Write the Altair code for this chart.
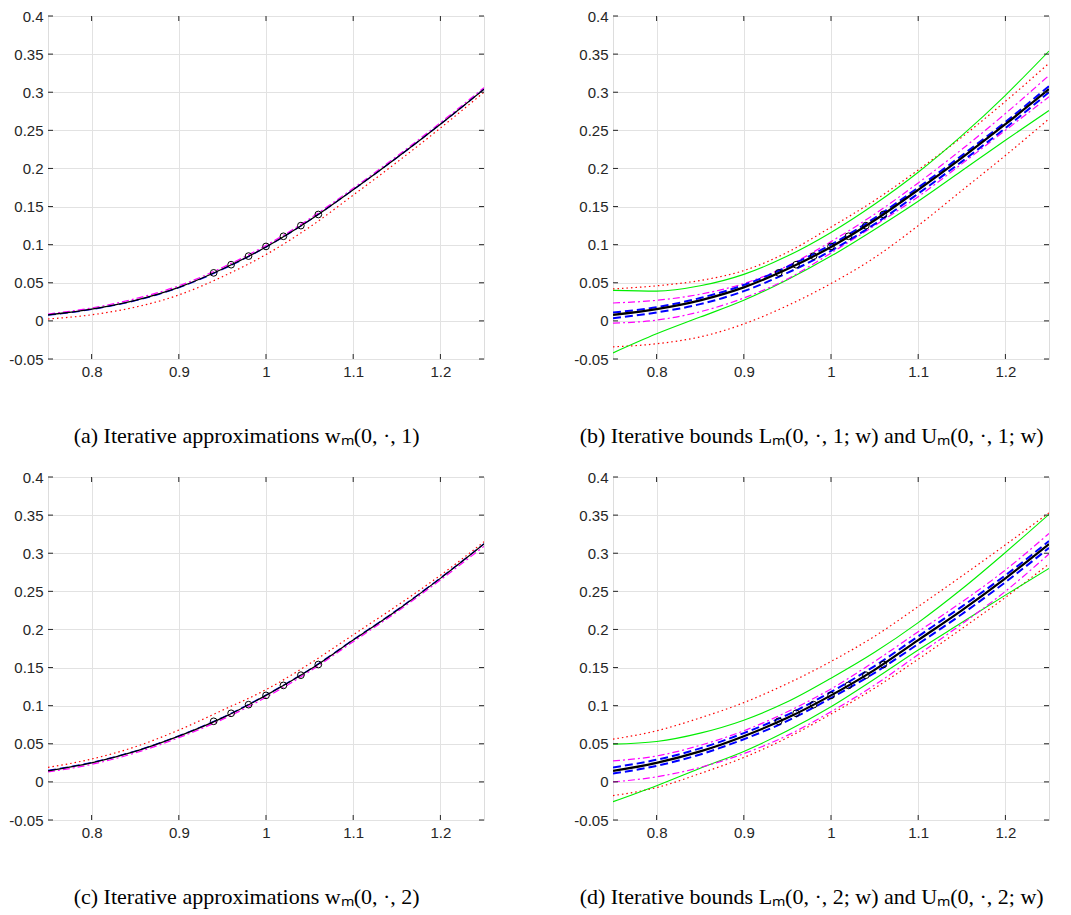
import altair as alt
import pandas as pd

# ---------------- data ----------------
x_pts = [0.75, 0.80, 0.85, 0.90, 0.95, 1.00, 1.05, 1.10, 1.15, 1.20, 1.25]
circle_x = [0.94, 0.96, 0.98, 1.00, 1.02, 1.04, 1.06]

# panel (a): iterative approximations w_m(0,.,1)
a_black = [0.008, 0.0155, 0.027, 0.044, 0.068, 0.097, 0.132, 0.172, 0.214, 0.258, 0.304]
a_blue = [0.0075, 0.015, 0.0265, 0.0435, 0.0675, 0.0968, 0.132, 0.172, 0.214, 0.258, 0.304]
a_magenta = [0.009, 0.017, 0.029, 0.046, 0.070, 0.099, 0.134, 0.174, 0.216, 0.260, 0.306]
a_red = [0.0025, 0.008, 0.018, 0.034, 0.058, 0.087, 0.123, 0.165, 0.208, 0.253, 0.300]
a_circles = [0.063, 0.0737, 0.085, 0.0977, 0.111, 0.125, 0.1396]

# panel (b): bounds L_m(0,.,1;w), U_m(0,.,1;w)
b_green_up = [0.040, 0.039, 0.046, 0.061, 0.085, 0.116, 0.153, 0.195, 0.243, 0.296, 0.354]
b_red_up = [0.042, 0.046, 0.053, 0.066, 0.090, 0.123, 0.158, 0.198, 0.241, 0.288, 0.338]
b_mag_up = [0.0235, 0.027, 0.035, 0.049, 0.072, 0.104, 0.140, 0.181, 0.225, 0.272, 0.322]
b_blue_up = [0.011, 0.018, 0.030, 0.047, 0.071, 0.100, 0.135, 0.175, 0.217, 0.261, 0.308]
b_blue_lo = [0.0035, 0.011, 0.022, 0.039, 0.063, 0.092, 0.127, 0.167, 0.209, 0.253, 0.300]
b_mag_lo = [-0.003, 0.001, 0.012, 0.030, 0.055, 0.089, 0.125, 0.163, 0.206, 0.250, 0.294]
b_green_lo = [-0.042, -0.017, 0.005, 0.027, 0.054, 0.085, 0.120, 0.157, 0.197, 0.237, 0.276]
b_red_lo = [-0.034, -0.030, -0.021, -0.004, 0.020, 0.049, 0.083, 0.125, 0.171, 0.217, 0.265]

# panel (c): iterative approximations w_m(0,.,2)
c_black = [0.0145, 0.025, 0.040, 0.060, 0.084, 0.1135, 0.147, 0.186, 0.225, 0.267, 0.312]
c_blue = [0.015, 0.0255, 0.0405, 0.0605, 0.0845, 0.114, 0.1475, 0.1865, 0.2255, 0.2675, 0.3125]
c_magenta = [0.013, 0.023, 0.038, 0.058, 0.082, 0.111, 0.145, 0.184, 0.223, 0.265, 0.309]
c_red = [0.019, 0.030, 0.046, 0.068, 0.094, 0.121, 0.155, 0.193, 0.231, 0.271, 0.315]
c_circles = [0.0795, 0.090, 0.1013, 0.1135, 0.1266, 0.140, 0.154]

# panel (d): bounds L_m(0,.,2;w), U_m(0,.,2;w)
d_red_up = [0.056, 0.067, 0.084, 0.104, 0.129, 0.158, 0.191, 0.230, 0.270, 0.311, 0.353]
d_green_up = [0.0495, 0.053, 0.064, 0.081, 0.105, 0.136, 0.170, 0.209, 0.253, 0.301, 0.351]
d_mag_up = [0.0276, 0.034, 0.048, 0.067, 0.092, 0.122, 0.158, 0.197, 0.236, 0.278, 0.326]
d_blue_up = [0.019, 0.029, 0.044, 0.064, 0.088, 0.118, 0.152, 0.191, 0.230, 0.271, 0.316]
d_blue_lo = [0.011, 0.021, 0.036, 0.056, 0.080, 0.110, 0.143, 0.181, 0.220, 0.262, 0.307]
d_mag_lo = [0.000, 0.0066, 0.019, 0.037, 0.061, 0.092, 0.127, 0.167, 0.207, 0.250, 0.299]
d_green_lo = [-0.026, -0.005, 0.018, 0.040, 0.067, 0.0986, 0.135, 0.173, 0.209, 0.245, 0.280]
d_red_lo = [-0.018, -0.0075, 0.011, 0.032, 0.058, 0.089, 0.123, 0.161, 0.201, 0.242, 0.286]

x_ticks = [0.8, 0.9, 1.0, 1.1, 1.2]
y_ticks = [-0.05, 0.0, 0.05, 0.1, 0.15, 0.2, 0.25, 0.3, 0.35, 0.4]

captions = [
    "(a) Iterative approximations wₘ(0, ·, 1)",
    "(b) Iterative bounds Lₘ(0, ·, 1; w) and Uₘ(0, ·, 1; w)",
    "(c) Iterative approximations wₘ(0, ·, 2)",
    "(d) Iterative bounds Lₘ(0, ·, 2; w) and Uₘ(0, ·, 2; w)",
]

# ---------------- styling ----------------
W, H = 436, 343
STYLE = {
    "red": dict(color="#FF0000", strokeDash=[1.5, 3], strokeWidth=1.2),
    "magenta": dict(color="#FF00FF", strokeDash=[7, 3, 2, 3], strokeWidth=1.2),
    "blue": dict(color="#0000FF", strokeDash=[8, 4], strokeWidth=1.3),
    "blue_thick": dict(color="#0000FF", strokeDash=[8, 4], strokeWidth=2.0),
    "green": dict(color="#00EE00", strokeWidth=1.1),
    "black": dict(color="#000000", strokeWidth=1.2),
    "black_thick": dict(color="#000000", strokeWidth=2.2),
}

axis_common = dict(
    grid=True, gridColor="#E2E2E2", gridWidth=1, domain=False, ticks=False,
    labelFont="Liberation Sans", labelFontSize=15, labelColor="#262626",
    title=None,
)
X = alt.X("x:Q", scale=alt.Scale(domain=[0.75, 1.25], nice=False, zero=False),
          axis=alt.Axis(values=x_ticks, format="~g", labelPadding=5, **axis_common))
Y = alt.Y("y:Q", scale=alt.Scale(domain=[-0.05, 0.4], nice=False, zero=False),
          axis=alt.Axis(values=y_ticks, labelPadding=5,
                        labelExpr="datum.value < 0 ? '-' + format(-datum.value, '~g') : format(datum.value, '~g')",
                        **axis_common))


def line(values, style):
    df = pd.DataFrame({"x": x_pts, "y": values})
    return alt.Chart(df).mark_line(interpolate="monotone", clip=True, **STYLE[style]).encode(x=X, y=Y)


def ticks_layers():
    dx = pd.DataFrame({"x": x_ticks})
    dy = pd.DataFrame({"y": y_ticks})
    tk = dict(color="#262626", strokeWidth=1)
    return [
        alt.Chart(dx).mark_rule(**tk).encode(x=X, y=alt.value(H), y2=alt.value(H - 5)),
        alt.Chart(dx).mark_rule(**tk).encode(x=X, y=alt.value(0), y2=alt.value(5)),
        alt.Chart(dy).mark_rule(**tk).encode(y=Y, x=alt.value(0), x2=alt.value(5)),
        alt.Chart(dy).mark_rule(**tk).encode(y=Y, x=alt.value(W), x2=alt.value(W - 5)),
    ]


def circles(values):
    df = pd.DataFrame({"x": circle_x, "y": values})
    return alt.Chart(df).mark_point(shape="circle", filled=False, color="#000000",
                                    size=45, strokeWidth=1, opacity=1).encode(x=X, y=Y)


def panel(layers, caption):
    return alt.layer(*layers, *ticks_layers()).properties(
        width=W, height=H,
        title=alt.TitleParams(caption, orient="bottom", anchor="middle", frame="bounds",
                              font="Liberation Serif", fontSize=22, fontWeight="normal",
                              color="#000000", offset=47),
    )


pa = panel([line(a_red, "red"), line(a_magenta, "magenta"), line(a_blue, "blue"),
            line(a_black, "black"), circles(a_circles)], captions[0])

pb = panel([line(b_red_up, "red"), line(b_red_lo, "red"),
            line(b_green_up, "green"), line(b_green_lo, "green"),
            line(b_mag_up, "magenta"), line(b_mag_lo, "magenta"),
            line(b_blue_up, "blue_thick"), line(b_blue_lo, "blue_thick"),
            line(a_black, "black_thick"), circles(a_circles)], captions[1])

pc = panel([line(c_red, "red"), line(c_magenta, "magenta"), line(c_blue, "blue"),
            line(c_black, "black"), circles(c_circles)], captions[2])

pd_ = panel([line(d_red_up, "red"), line(d_red_lo, "red"),
             line(d_green_up, "green"), line(d_green_lo, "green"),
             line(d_mag_up, "magenta"), line(d_mag_lo, "magenta"),
             line(d_blue_up, "blue_thick"), line(d_blue_lo, "blue_thick"),
             line(c_black, "black_thick"), circles(c_circles)], captions[3])

chart = alt.vconcat(
    alt.hconcat(pa, pb, spacing=88),
    alt.hconcat(pc, pd_, spacing=88),
    spacing=21,
).properties(padding=0).configure_view(
    stroke="#444444", strokeWidth=1).configure(background="white")

chart.save("out.html", embed_options={"renderer": "svg", "actions": False})
